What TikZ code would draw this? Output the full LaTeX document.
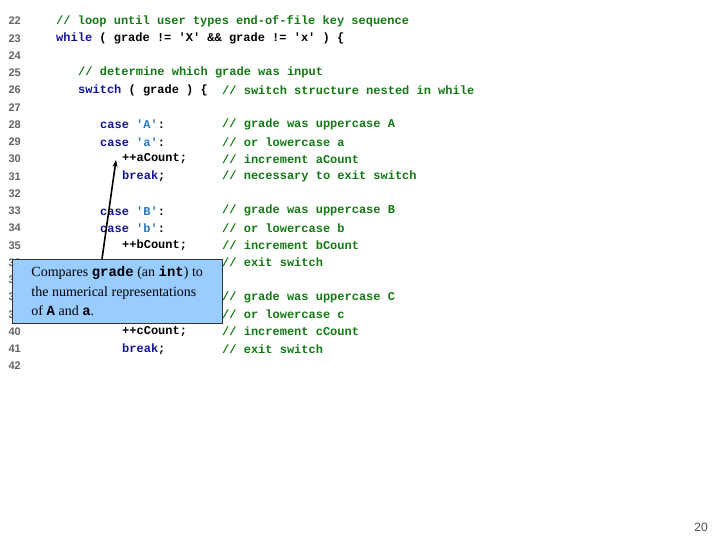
\documentclass[tikz,border=0pt]{standalone}
\usepackage{fontspec}
\usetikzlibrary{arrows.meta}
\setmainfont{Liberation Serif}
\newfontfamily\codef{Liberation Mono}
\newfontfamily\numf{Liberation Sans}
\definecolor{cmt}{RGB}{20,120,20}
\definecolor{kw}{RGB}{20,20,150}
\definecolor{chr}{RGB}{40,120,190}
\definecolor{boxfill}{RGB}{153,204,255}
\definecolor{lnum}{RGB}{100,100,100}
\begin{document}
\begin{tikzpicture}[x=1pt,y=-1pt,
  code/.style={anchor=west,inner sep=0pt,font=\codef\bfseries\fontsize{12}{12}\selectfont},
  ln/.style={anchor=east,inner sep=0pt,text=lnum,font=\numf\bfseries\fontsize{11}{11}\selectfont}]
\useasboundingbox[fill=white] (0,0) rectangle (720,540);
\foreach \n [count=\i from 0] in {22,...,42}
  \node[ln] (l\n) at (21,{21+17.25*\i}) {\n};
\def\Y#1{{21+17.25*(#1-22)}}
\node[code] (c22) at (56,\Y{22}) {\textcolor{cmt}{// loop until user types end-of-file key sequence}};
\node[code] (c23) at (56,\Y{23}) {\textcolor{kw}{while} ( grade != 'X' \&\& grade != 'x' ) \{};
\node[code] (c25) at (78,\Y{25}) {\textcolor{cmt}{// determine which grade was input}};
\node[code] (c26) at (78,\Y{26}) {\textcolor{kw}{switch} ( grade ) \{};
\node[code] (m26) at (222,\Y{26}) {\textcolor{cmt}{// switch structure nested in while}};
\foreach \l/\ch/\cm in {28/A/grade was uppercase A,29/a/or lowercase a,33/B/grade was uppercase B,34/b/or lowercase b}{
  \node[code] (c\l) at (100,\Y{\l}) {\textcolor{kw}{case} \textcolor{chr}{'\ch'}:};
  \node[code] (m\l) at (222,\Y{\l}) {\textcolor{cmt}{// \cm}};
}
\node[code] (m38) at (222,\Y{38}) {\textcolor{cmt}{// grade was uppercase C}};
\node[code] (m39) at (222,\Y{39}) {\textcolor{cmt}{// or lowercase c}};
\foreach \l/\v in {30/a,35/b,40/c}{
  \node[code] (c\l) at (122,\Y{\l}) {++\v Count;};
  \node[code] (m\l) at (222,\Y{\l}) {\textcolor{cmt}{// increment \v Count}};
}
\node[code] (c31) at (122,\Y{31}) {\textcolor{kw}{break};};
\node[code] (m31) at (222,\Y{31}) {\textcolor{cmt}{// necessary to exit switch}};
\node[code] (m36) at (222,\Y{36}) {\textcolor{cmt}{// exit switch}};
\node[code] (c41) at (122,\Y{41}) {\textcolor{kw}{break};};
\node[code] (m41) at (222,\Y{41}) {\textcolor{cmt}{// exit switch}};
\node[draw=black!80,fill=boxfill,minimum width=210,minimum height=64,anchor=north west,
  align=left,inner sep=5pt,font=\fontsize{14}{19.5}\selectfont] (box) at (12,259)
  {Compares {\codef\bfseries grade} (an {\codef\bfseries int}) to\\the numerical representations\\of {\codef\bfseries A} and {\codef\bfseries a}.};
\coordinate (start) at (102,259);
\coordinate (tip) at (116,160);
\draw[-{Stealth[length=7pt,width=5pt]},line width=1.6pt] (start) -- (tip);
\node[anchor=south east,inner sep=0pt,text=black!70,font=\numf\fontsize{12}{12}\selectfont] (pg) at (708,532) {20};
\end{tikzpicture}
\end{document}
